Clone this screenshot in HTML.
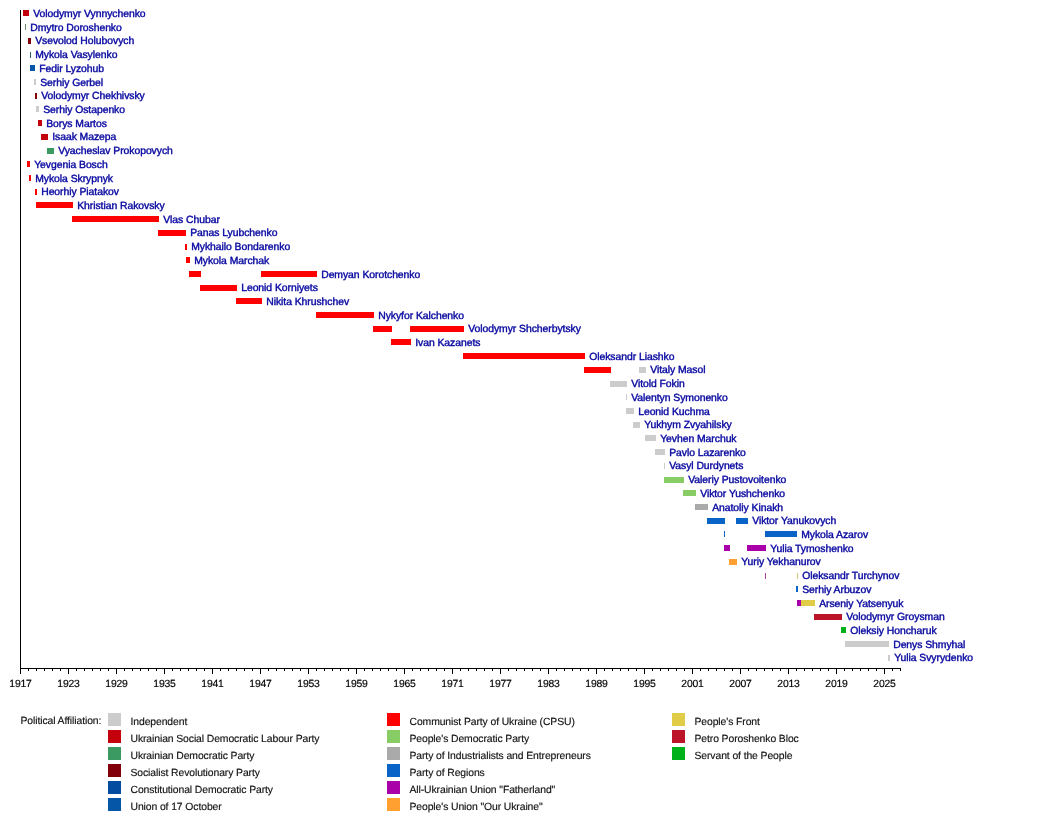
<!DOCTYPE html>
<html><head><meta charset="utf-8"><style>
html,body{margin:0;padding:0;background:#fff;}
body{width:1050px;height:818px;overflow:hidden;}
svg{display:block;will-change:transform;}
text{font-family:"Liberation Sans",sans-serif;font-size:10.4px;text-rendering:geometricPrecision;}
.l{fill:#0808a0;stroke:#0808a0;stroke-width:0.4px;letter-spacing:-0.05px;}
.a{fill:#000;stroke:#000;stroke-width:0.15px;text-anchor:middle;letter-spacing:-0.2px;}
.g{fill:#111;stroke:#111;stroke-width:0.15px;letter-spacing:-0.1px;}
</style></head><body>
<svg width="1050" height="818" viewBox="0 0 1050 818">
<rect width="1050" height="818" fill="#fff"/>
<rect x="23" y="10" width="6.00" height="6" fill="#c4000c"/>
<text x="33.2" y="17.05" class="l">Volodymyr Vynnychenko</text>
<rect x="25" y="24" width="1.00" height="6" fill="#6e8a6e"/>
<text x="30.2" y="30.76" class="l">Dmytro Doroshenko</text>
<rect x="28" y="38" width="3.00" height="6" fill="#82000a"/>
<text x="35.2" y="44.47" class="l">Vsevolod Holubovych</text>
<rect x="30" y="52" width="1.00" height="6" fill="#2a6070"/>
<text x="35.2" y="58.17" class="l">Mykola Vasylenko</text>
<rect x="30" y="65" width="5.00" height="6" fill="#0656a8"/>
<text x="39.2" y="71.88" class="l">Fedir Lyzohub</text>
<rect x="34" y="79" width="2.00" height="6" fill="#cccccc"/>
<text x="40.2" y="85.59" class="l">Serhiy Gerbel</text>
<rect x="35" y="93" width="2.00" height="6" fill="#82000a"/>
<text x="41.2" y="99.30" class="l">Volodymyr Chekhivsky</text>
<rect x="36" y="106" width="3.00" height="6" fill="#cccccc"/>
<text x="43.2" y="113.01" class="l">Serhiy Ostapenko</text>
<rect x="38" y="120" width="4.00" height="6" fill="#c4000c"/>
<text x="46.2" y="126.72" class="l">Borys Martos</text>
<rect x="41" y="134" width="7.00" height="6" fill="#c4000c"/>
<text x="52.2" y="140.43" class="l">Isaak Mazepa</text>
<rect x="47" y="148" width="7.00" height="6" fill="#3a9a62"/>
<text x="58.2" y="154.13" class="l">Vyacheslav Prokopovych</text>
<rect x="27" y="161" width="3.00" height="6" fill="#ff0000"/>
<text x="34.2" y="167.84" class="l">Yevgenia Bosch</text>
<rect x="29" y="175" width="2.00" height="6" fill="#ff0000"/>
<text x="35.2" y="181.55" class="l">Mykola Skrypnyk</text>
<rect x="35" y="189" width="2.00" height="6" fill="#ff0000"/>
<text x="41.2" y="195.26" class="l">Heorhiy Piatakov</text>
<rect x="36" y="202" width="37.00" height="6" fill="#ff0000"/>
<text x="77.2" y="208.97" class="l">Khristian Rakovsky</text>
<rect x="72" y="216" width="87.00" height="6" fill="#ff0000"/>
<text x="163.2" y="222.68" class="l">Vlas Chubar</text>
<rect x="158" y="230" width="28.00" height="6" fill="#ff0000"/>
<text x="190.2" y="236.38" class="l">Panas Lyubchenko</text>
<rect x="185" y="244" width="2.00" height="6" fill="#ff0000"/>
<text x="191.2" y="250.09" class="l">Mykhailo Bondarenko</text>
<rect x="186" y="257" width="4.00" height="6" fill="#ff0000"/>
<text x="194.2" y="263.80" class="l">Mykola Marchak</text>
<rect x="189" y="271" width="12.00" height="6" fill="#ff0000"/>
<rect x="261" y="271" width="56.00" height="6" fill="#ff0000"/>
<text x="321.2" y="277.51" class="l">Demyan Korotchenko</text>
<rect x="200" y="285" width="37.00" height="6" fill="#ff0000"/>
<text x="241.2" y="291.22" class="l">Leonid Korniyets</text>
<rect x="236" y="298" width="26.00" height="6" fill="#ff0000"/>
<text x="266.2" y="304.93" class="l">Nikita Khrushchev</text>
<rect x="316" y="312" width="58.00" height="6" fill="#ff0000"/>
<text x="378.2" y="318.63" class="l">Nykyfor Kalchenko</text>
<rect x="373" y="326" width="19.00" height="6" fill="#ff0000"/>
<rect x="410" y="326" width="54.00" height="6" fill="#ff0000"/>
<text x="468.2" y="332.34" class="l">Volodymyr Shcherbytsky</text>
<rect x="391" y="339" width="20.00" height="6" fill="#ff0000"/>
<text x="415.2" y="346.05" class="l">Ivan Kazanets</text>
<rect x="463" y="353" width="122.00" height="6" fill="#ff0000"/>
<text x="589.2" y="359.76" class="l">Oleksandr Liashko</text>
<rect x="584" y="367" width="27.00" height="6" fill="#ff0000"/>
<rect x="639" y="367" width="7.00" height="6" fill="#cccccc"/>
<text x="650.2" y="373.47" class="l">Vitaly Masol</text>
<rect x="610" y="381" width="17.00" height="6" fill="#cccccc"/>
<text x="631.2" y="387.18" class="l">Vitold Fokin</text>
<rect x="626" y="394" width="1.00" height="6" fill="#cccccc"/>
<text x="631.2" y="400.88" class="l">Valentyn Symonenko</text>
<rect x="626" y="408" width="8.00" height="6" fill="#cccccc"/>
<text x="638.2" y="414.59" class="l">Leonid Kuchma</text>
<rect x="633" y="422" width="7.00" height="6" fill="#cccccc"/>
<text x="644.2" y="428.30" class="l">Yukhym Zvyahilsky</text>
<rect x="645" y="435" width="11.00" height="6" fill="#cccccc"/>
<text x="660.2" y="442.01" class="l">Yevhen Marchuk</text>
<rect x="655" y="449" width="10.00" height="6" fill="#cccccc"/>
<text x="669.2" y="455.72" class="l">Pavlo Lazarenko</text>
<rect x="664" y="463" width="1.00" height="6" fill="#cccccc"/>
<text x="669.2" y="469.43" class="l">Vasyl Durdynets</text>
<rect x="664" y="477" width="20.00" height="6" fill="#88cc66"/>
<text x="688.2" y="483.13" class="l">Valeriy Pustovoitenko</text>
<rect x="683" y="490" width="13.00" height="6" fill="#88cc66"/>
<text x="700.2" y="496.84" class="l">Viktor Yushchenko</text>
<rect x="695" y="504" width="13.00" height="6" fill="#aaaaaa"/>
<text x="712.2" y="510.55" class="l">Anatoliy Kinakh</text>
<rect x="707" y="518" width="18.00" height="6" fill="#0a64c8"/>
<rect x="736" y="518" width="12.00" height="6" fill="#0a64c8"/>
<text x="752.2" y="524.26" class="l">Viktor Yanukovych</text>
<rect x="724" y="531" width="1.00" height="6" fill="#0a64c8"/>
<rect x="765" y="531" width="32.00" height="6" fill="#0a64c8"/>
<text x="801.2" y="537.97" class="l">Mykola Azarov</text>
<rect x="724" y="545" width="6.00" height="6" fill="#aa00aa"/>
<rect x="747" y="545" width="19.00" height="6" fill="#aa00aa"/>
<text x="770.2" y="551.67" class="l">Yulia Tymoshenko</text>
<rect x="729" y="559" width="8.00" height="6" fill="#ffa030"/>
<text x="741.2" y="565.38" class="l">Yuriy Yekhanurov</text>
<rect x="765" y="573" width="1.00" height="6" fill="#a8409c"/>
<rect x="797" y="573" width="1.00" height="6" fill="#cfc07a"/>
<text x="802.2" y="579.09" class="l">Oleksandr Turchynov</text>
<rect x="796" y="586" width="2.00" height="6" fill="#0a64c8"/>
<text x="802.2" y="592.80" class="l">Serhiy Arbuzov</text>
<rect x="797" y="600" width="4.00" height="6" fill="#aa00aa"/>
<rect x="801" y="600" width="14.00" height="6" fill="#e0cc46"/>
<text x="819.2" y="606.51" class="l">Arseniy Yatsenyuk</text>
<rect x="814" y="614" width="28.00" height="6" fill="#bc1428"/>
<text x="846.2" y="620.22" class="l">Volodymyr Groysman</text>
<rect x="841" y="627" width="5.00" height="6" fill="#00b01a"/>
<text x="850.2" y="633.92" class="l">Oleksiy Honcharuk</text>
<rect x="845" y="641" width="44.00" height="6" fill="#cccccc"/>
<text x="893.2" y="647.63" class="l">Denys Shmyhal</text>
<rect x="888" y="655" width="2.00" height="6" fill="#cccccc"/>
<text x="894.2" y="661.34" class="l">Yulia Svyrydenko</text>
<rect x="20" y="10" width="1" height="664" fill="#000"/>
<rect x="20" y="668" width="881" height="1" fill="#000"/>
<rect x="20" y="669" width="1" height="5" fill="#000"/>
<text x="20.5" y="687" class="a">1917</text>
<rect x="28" y="669" width="1" height="2" fill="#000"/>
<rect x="36" y="669" width="1" height="2" fill="#000"/>
<rect x="44" y="669" width="1" height="2" fill="#000"/>
<rect x="52" y="669" width="1" height="2" fill="#000"/>
<rect x="60" y="669" width="1" height="2" fill="#000"/>
<rect x="68" y="669" width="1" height="5" fill="#000"/>
<text x="68.5" y="687" class="a">1923</text>
<rect x="76" y="669" width="1" height="2" fill="#000"/>
<rect x="84" y="669" width="1" height="2" fill="#000"/>
<rect x="92" y="669" width="1" height="2" fill="#000"/>
<rect x="100" y="669" width="1" height="2" fill="#000"/>
<rect x="108" y="669" width="1" height="2" fill="#000"/>
<rect x="116" y="669" width="1" height="5" fill="#000"/>
<text x="116.5" y="687" class="a">1929</text>
<rect x="124" y="669" width="1" height="2" fill="#000"/>
<rect x="132" y="669" width="1" height="2" fill="#000"/>
<rect x="140" y="669" width="1" height="2" fill="#000"/>
<rect x="148" y="669" width="1" height="2" fill="#000"/>
<rect x="156" y="669" width="1" height="2" fill="#000"/>
<rect x="164" y="669" width="1" height="5" fill="#000"/>
<text x="164.5" y="687" class="a">1935</text>
<rect x="172" y="669" width="1" height="2" fill="#000"/>
<rect x="180" y="669" width="1" height="2" fill="#000"/>
<rect x="188" y="669" width="1" height="2" fill="#000"/>
<rect x="196" y="669" width="1" height="2" fill="#000"/>
<rect x="204" y="669" width="1" height="2" fill="#000"/>
<rect x="212" y="669" width="1" height="5" fill="#000"/>
<text x="212.5" y="687" class="a">1941</text>
<rect x="220" y="669" width="1" height="2" fill="#000"/>
<rect x="228" y="669" width="1" height="2" fill="#000"/>
<rect x="236" y="669" width="1" height="2" fill="#000"/>
<rect x="244" y="669" width="1" height="2" fill="#000"/>
<rect x="252" y="669" width="1" height="2" fill="#000"/>
<rect x="260" y="669" width="1" height="5" fill="#000"/>
<text x="260.5" y="687" class="a">1947</text>
<rect x="268" y="669" width="1" height="2" fill="#000"/>
<rect x="276" y="669" width="1" height="2" fill="#000"/>
<rect x="284" y="669" width="1" height="2" fill="#000"/>
<rect x="292" y="669" width="1" height="2" fill="#000"/>
<rect x="300" y="669" width="1" height="2" fill="#000"/>
<rect x="308" y="669" width="1" height="5" fill="#000"/>
<text x="308.5" y="687" class="a">1953</text>
<rect x="316" y="669" width="1" height="2" fill="#000"/>
<rect x="324" y="669" width="1" height="2" fill="#000"/>
<rect x="332" y="669" width="1" height="2" fill="#000"/>
<rect x="340" y="669" width="1" height="2" fill="#000"/>
<rect x="348" y="669" width="1" height="2" fill="#000"/>
<rect x="356" y="669" width="1" height="5" fill="#000"/>
<text x="356.5" y="687" class="a">1959</text>
<rect x="364" y="669" width="1" height="2" fill="#000"/>
<rect x="372" y="669" width="1" height="2" fill="#000"/>
<rect x="380" y="669" width="1" height="2" fill="#000"/>
<rect x="388" y="669" width="1" height="2" fill="#000"/>
<rect x="396" y="669" width="1" height="2" fill="#000"/>
<rect x="404" y="669" width="1" height="5" fill="#000"/>
<text x="404.5" y="687" class="a">1965</text>
<rect x="412" y="669" width="1" height="2" fill="#000"/>
<rect x="420" y="669" width="1" height="2" fill="#000"/>
<rect x="428" y="669" width="1" height="2" fill="#000"/>
<rect x="436" y="669" width="1" height="2" fill="#000"/>
<rect x="444" y="669" width="1" height="2" fill="#000"/>
<rect x="452" y="669" width="1" height="5" fill="#000"/>
<text x="452.5" y="687" class="a">1971</text>
<rect x="460" y="669" width="1" height="2" fill="#000"/>
<rect x="468" y="669" width="1" height="2" fill="#000"/>
<rect x="476" y="669" width="1" height="2" fill="#000"/>
<rect x="484" y="669" width="1" height="2" fill="#000"/>
<rect x="492" y="669" width="1" height="2" fill="#000"/>
<rect x="500" y="669" width="1" height="5" fill="#000"/>
<text x="500.5" y="687" class="a">1977</text>
<rect x="508" y="669" width="1" height="2" fill="#000"/>
<rect x="516" y="669" width="1" height="2" fill="#000"/>
<rect x="524" y="669" width="1" height="2" fill="#000"/>
<rect x="532" y="669" width="1" height="2" fill="#000"/>
<rect x="540" y="669" width="1" height="2" fill="#000"/>
<rect x="548" y="669" width="1" height="5" fill="#000"/>
<text x="548.5" y="687" class="a">1983</text>
<rect x="556" y="669" width="1" height="2" fill="#000"/>
<rect x="564" y="669" width="1" height="2" fill="#000"/>
<rect x="572" y="669" width="1" height="2" fill="#000"/>
<rect x="580" y="669" width="1" height="2" fill="#000"/>
<rect x="588" y="669" width="1" height="2" fill="#000"/>
<rect x="596" y="669" width="1" height="5" fill="#000"/>
<text x="596.5" y="687" class="a">1989</text>
<rect x="604" y="669" width="1" height="2" fill="#000"/>
<rect x="612" y="669" width="1" height="2" fill="#000"/>
<rect x="620" y="669" width="1" height="2" fill="#000"/>
<rect x="628" y="669" width="1" height="2" fill="#000"/>
<rect x="636" y="669" width="1" height="2" fill="#000"/>
<rect x="644" y="669" width="1" height="5" fill="#000"/>
<text x="644.5" y="687" class="a">1995</text>
<rect x="652" y="669" width="1" height="2" fill="#000"/>
<rect x="660" y="669" width="1" height="2" fill="#000"/>
<rect x="668" y="669" width="1" height="2" fill="#000"/>
<rect x="676" y="669" width="1" height="2" fill="#000"/>
<rect x="684" y="669" width="1" height="2" fill="#000"/>
<rect x="692" y="669" width="1" height="5" fill="#000"/>
<text x="692.5" y="687" class="a">2001</text>
<rect x="700" y="669" width="1" height="2" fill="#000"/>
<rect x="708" y="669" width="1" height="2" fill="#000"/>
<rect x="716" y="669" width="1" height="2" fill="#000"/>
<rect x="724" y="669" width="1" height="2" fill="#000"/>
<rect x="732" y="669" width="1" height="2" fill="#000"/>
<rect x="740" y="669" width="1" height="5" fill="#000"/>
<text x="740.5" y="687" class="a">2007</text>
<rect x="748" y="669" width="1" height="2" fill="#000"/>
<rect x="756" y="669" width="1" height="2" fill="#000"/>
<rect x="764" y="669" width="1" height="2" fill="#000"/>
<rect x="772" y="669" width="1" height="2" fill="#000"/>
<rect x="780" y="669" width="1" height="2" fill="#000"/>
<rect x="788" y="669" width="1" height="5" fill="#000"/>
<text x="788.5" y="687" class="a">2013</text>
<rect x="796" y="669" width="1" height="2" fill="#000"/>
<rect x="804" y="669" width="1" height="2" fill="#000"/>
<rect x="812" y="669" width="1" height="2" fill="#000"/>
<rect x="820" y="669" width="1" height="2" fill="#000"/>
<rect x="828" y="669" width="1" height="2" fill="#000"/>
<rect x="836" y="669" width="1" height="5" fill="#000"/>
<text x="836.5" y="687" class="a">2019</text>
<rect x="844" y="669" width="1" height="2" fill="#000"/>
<rect x="852" y="669" width="1" height="2" fill="#000"/>
<rect x="860" y="669" width="1" height="2" fill="#000"/>
<rect x="868" y="669" width="1" height="2" fill="#000"/>
<rect x="876" y="669" width="1" height="2" fill="#000"/>
<rect x="884" y="669" width="1" height="5" fill="#000"/>
<text x="884.5" y="687" class="a">2025</text>
<rect x="892" y="669" width="1" height="2" fill="#000"/>
<rect x="900" y="669" width="1" height="2" fill="#000"/>
<text x="20.5" y="724" class="g">Political Affiliation:</text>
<rect x="108" y="713" width="13" height="13" fill="#cccccc"/>
<text x="130.5" y="725" class="g">Independent</text>
<rect x="108" y="730" width="13" height="13" fill="#c4000c"/>
<text x="130.5" y="742" class="g">Ukrainian Social Democratic Labour Party</text>
<rect x="108" y="747" width="13" height="13" fill="#3a9a62"/>
<text x="130.5" y="759" class="g">Ukrainian Democratic Party</text>
<rect x="108" y="764" width="13" height="13" fill="#82000a"/>
<text x="130.5" y="776" class="g">Socialist Revolutionary Party</text>
<rect x="108" y="781" width="13" height="13" fill="#034ca0"/>
<text x="130.5" y="793" class="g">Constitutional Democratic Party</text>
<rect x="108" y="798" width="13" height="13" fill="#0656a8"/>
<text x="130.5" y="810" class="g">Union of 17 October</text>
<rect x="387" y="713" width="13" height="13" fill="#ff0000"/>
<text x="409.5" y="725" class="g">Communist Party of Ukraine (CPSU)</text>
<rect x="387" y="730" width="13" height="13" fill="#88cc66"/>
<text x="409.5" y="742" class="g">People's Democratic Party</text>
<rect x="387" y="747" width="13" height="13" fill="#aaaaaa"/>
<text x="409.5" y="759" class="g">Party of Industrialists and Entrepreneurs</text>
<rect x="387" y="764" width="13" height="13" fill="#0a64c8"/>
<text x="409.5" y="776" class="g">Party of Regions</text>
<rect x="387" y="781" width="13" height="13" fill="#aa00aa"/>
<text x="409.5" y="793" class="g">All-Ukrainian Union &quot;Fatherland&quot;</text>
<rect x="387" y="798" width="13" height="13" fill="#ffa030"/>
<text x="409.5" y="810" class="g">People's Union &quot;Our Ukraine&quot;</text>
<rect x="672" y="713" width="13" height="13" fill="#e0cc46"/>
<text x="694.5" y="725" class="g">People's Front</text>
<rect x="672" y="730" width="13" height="13" fill="#bc1428"/>
<text x="694.5" y="742" class="g">Petro Poroshenko Bloc</text>
<rect x="672" y="747" width="13" height="13" fill="#00b01a"/>
<text x="694.5" y="759" class="g">Servant of the People</text>
</svg>
</body></html>
